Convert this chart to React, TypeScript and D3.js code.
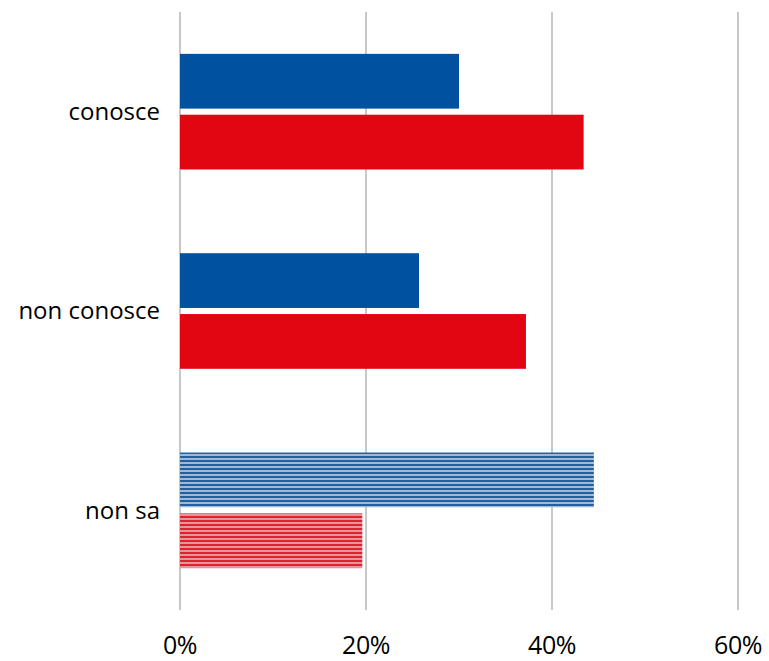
import React from "react";
import * as d3 from "d3";

const categories = ["conosce", "non conosce", "non sa"];
const seriesA = [30.0, 25.7, 44.5];
const seriesB = [43.4, 37.2, 19.6];
const hatched = [false, false, true];
const ticks = [0, 20, 40, 60];

const W = 769;
const H = 661;
const left = 180;
const right = 738;
const top = 12;
const bottom = 610;

export default function App() {
  const x = d3.scaleLinear().domain([0, 60]).range([left, right]);
  const y = d3.scaleBand<string>().domain(categories).range([top, bottom]).paddingInner(0.42).paddingOuter(0.21);
  const sub = d3.scaleBand<string>().domain(["a", "b"]).range([0, y.bandwidth()]).paddingInner(0.1);
  const blue = "#0052a0";
  const red = "#e20613";
  return (
    <svg width={W} height={H} style={{ position: "absolute", left: 0, top: 0, background: "#fff" }}>
      <defs>
        <pattern id="hatchBlue" width="6" height="4" patternUnits="userSpaceOnUse">
          <rect width="6" height="4" fill="#9fb8d6" />
          <rect width="6" height="2" fill="#22609f" />
        </pattern>
        <pattern id="hatchRed" width="6" height="4" patternUnits="userSpaceOnUse">
          <rect width="6" height="4" fill="#e3959c" />
          <rect width="6" height="2" fill="#dc2430" />
        </pattern>
      </defs>
      {ticks.map((t) => (
        <line key={t} x1={x(t)} x2={x(t)} y1={top} y2={bottom} stroke="#c8c8c8" strokeWidth={2} />
      ))}
      {categories.map((c, i) => {
        const y0 = y(c)!;
        return (
          <g key={c}>
            <rect x={x(0)} y={y0 + sub("a")!} width={x(seriesA[i]) - x(0)} height={sub.bandwidth()}
              fill={hatched[i] ? "url(#hatchBlue)" : blue} />
            <rect x={x(0)} y={y0 + sub("b")!} width={x(seriesB[i]) - x(0)} height={sub.bandwidth()}
              fill={hatched[i] ? "url(#hatchRed)" : red} />
            <text x={160} y={y0 + y.bandwidth() / 2} dy="0.35em" textAnchor="end"
              fontFamily="'Open Sans', sans-serif" fontSize={24} fill="#000">{c}</text>
          </g>
        );
      })}
      {ticks.map((t) => (
        <text key={"l" + t} x={x(t)} y={654} textAnchor="middle"
          fontFamily="'Open Sans', sans-serif" fontSize={25} fill="#000" letterSpacing={-0.5}>{t + "%"}</text>
      ))}
    </svg>
  );
}
